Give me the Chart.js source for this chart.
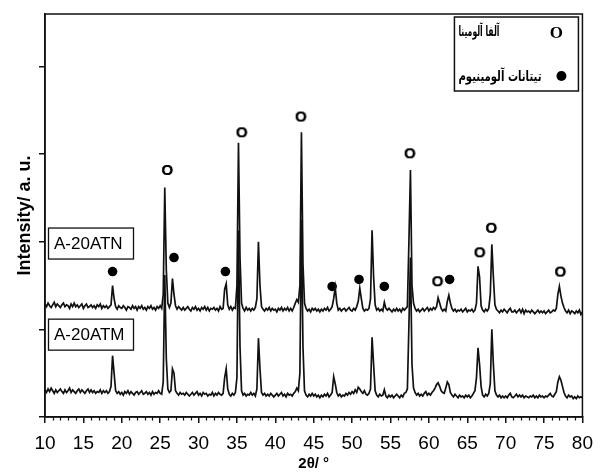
<!DOCTYPE html>
<html><head><meta charset="utf-8">
<script src="https://cdn.jsdelivr.net/npm/chart.js@4.4.1/dist/chart.umd.min.js"></script>
<style>html,body{margin:0;padding:0;background:#fff}#wrap{width:602px;height:475px;position:relative}</style>
</head><body><div id="wrap"><canvas id="c"></canvas></div>
<script>
// 2θ scan: start angle and step (degrees)
const thetaStart = 10;
const thetaStep = 0.2;

// Intensity of sample A-20ATN (upper pattern), one value per step
const atnIntensity = [
129,126,130,127,125, 128,131,126,129,127, 125,128,130,126,128, 127,124,129,126,130, 126,128,125,127,129,
124,127,129,125,126, 128,125,127,124,128, 126,129,124,127,125, 127,124,126,128,150, 135,126,123,127,125,
124,127,125,122,126, 125,123,127,124,126, 122,126,124,127,123, 125,122,126,124,127, 123,125,122,126,124,
127,124,140,262,168, 130,125,130,158,140, 127,123,126,124,122, 125,122,124,126,123, 121,125,123,126,122,
124,121,125,123,126, 122,125,121,124,123, 125,122,124,121,126, 123,124,146,152,128, 123,126,122,125,124,
150,313,182,130,124, 121,125,122,124,121, 124,122,125,135,200, 150,126,123,121,124, 122,125,121,124,122,
123,120,124,122,125, 121,124,122,125,121, 124,121,125,130,134, 131,150,325,175,130, 124,121,123,120,124,
122,124,121,123,120, 123,121,124,122,125, 121,123,126,135,148, 130,122,124,121,123, 124,121,123,125,122,
121,124,122,126,132, 147,135,124,121,123, 122,124,135,213,160, 128,122,124,121,123, 121,131,124,122,124,
122,120,123,121,124, 121,123,120,124,122, 124,126,200,282,150, 130,124,121,123,120, 122,124,121,123,125,
121,124,122,125,123, 126,136,130,124,121, 123,121,132,139,130, 124,121,123,120,122, 121,123,120,122,124,
120,122,121,123,120, 122,130,172,160,127, 122,120,123,121,124, 140,197,160,128,123, 121,119,122,120,123,
121,119,122,124,120, 120,122,119,121,123, 119,123,118,122,120, 121,119,122,120,118, 120,122,119,121,119,
121,118,120,122,119, 120,122,121,124,140, 149,138,130,125,121, 119,122,118,121,120, 118,121,119,122,117,
120
];

// Intensity of sample A-20ATM (lower pattern), one value per step
const atmIntensity = [
31,28,32,29,33, 30,27,31,28,30, 32,29,27,31,28, 30,33,28,31,29, 27,30,32,28,31,
29,27,30,32,28, 31,28,30,27,29, 28,31,27,30,28, 30,27,29,35,70, 50,30,27,29,26,
28,25,29,27,30, 26,29,27,25,28, 29,26,28,30,26, 27,29,26,28,25, 29,26,28,27,30,
27,26,40,162,67, 32,28,30,55,50, 30,27,25,28,26, 27,25,28,26,24, 26,28,25,27,29,
25,27,24,28,26, 27,24,26,25,28, 24,27,25,28,26, 25,27,45,55,32, 26,24,27,25,28,
45,213,80,30,25, 27,24,26,25,28, 25,27,24,32,90, 55,28,25,27,24, 26,24,27,25,23,
25,27,24,26,28, 24,26,23,27,25, 26,24,27,29,33, 30,50,225,80,30, 25,23,26,24,27,
24,26,23,25,22, 25,23,26,24,27, 23,25,28,46,38, 28,24,26,23,25, 24,27,25,28,26,
29,27,31,28,34, 32,29,27,30,26, 25,27,32,91,60, 30,25,23,26,24, 25,31,24,22,25,
23,25,22,24,26, 24,22,25,23,27, 28,32,105,182,60, 33,28,25,27,24, 26,24,27,29,25,
27,25,28,30,33, 37,39,35,30,28, 27,33,40,37,28, 25,23,26,24,22, 25,23,24,22,25,
23,25,22,24,27, 30,45,79,60,35, 25,23,26,24,27, 38,100,60,30,25, 23,25,22,24,22,
24,22,25,27,23, 22,24,26,23,25, 23,25,22,24,23, 22,24,23,25,22, 24,22,25,23,24,
22,24,23,25,27, 24,23,26,29,40, 46,42,35,28,24, 22,25,23,24,21, 23,21,24,22,23,
22
];

// Phase markers (position in 2θ and marker height in intensity units)
const aluminaMarkX = [25.9, 35.6, 43.3, 57.5, 61.1, 66.6, 68.1, 77.1];
const aluminaMarkY = [282, 325, 343, 301, 155, 188, 216, 166];
const titanateMarkX = [18.8, 26.8, 33.5, 47.4, 50.9, 54.2, 62.7];
const titanateMarkY = [166, 182, 166, 149, 157, 149, 157];

// Texts
const sampleNames = ['A-20ATN', 'A-20ATM'];
const sampleLabelY = [198, 94];
const legendLabels = ['آلفا آلومینا', 'تیتانات آلومینیوم'];
const xTitle = '2θ/ °';
const yTitle = 'Intensity/ a. u.';
const xMin = 10, xMax = 80, xMajor = 5, xMinor = 1;
const yMin = 0, yMax = 460, yStep = 100;

function toPoints(arr) {
  return arr.map((v, i) => ({ x: +(thetaStart + i * thetaStep).toFixed(1), y: v }));
}
function zip(xs, ys) { return xs.map((x, i) => ({ x: x, y: ys[i] })); }

function letterO() {
  const c = document.createElement('canvas');
  c.width = 18; c.height = 18;
  const g = c.getContext('2d');
  g.font = 'bold 15px "Liberation Sans", Arial, sans-serif';
  g.textAlign = 'center'; g.textBaseline = 'middle'; g.fillStyle = '#000';
  g.fillText('O', 9, 10);
  g.fillText('O', 9.4, 10);
  return c;
}

const INK = '#111';

const decorPlugin = {
  id: 'decor',
  afterDraw(chart) {
    const ctx = chart.ctx, a = chart.chartArea;
    const xs = chart.scales.x, ys = chart.scales.y;
    ctx.save();
    // frame
    ctx.strokeStyle = INK; ctx.lineWidth = 1.5;
    ctx.strokeRect(a.left, a.top, a.right - a.left, a.bottom - a.top);
    // minor ticks
    ctx.lineWidth = 1.2;
    ctx.beginPath();
    for (let v = xMin; v <= xMax; v += xMinor) {
      if (v % xMajor === 0) continue;
      const px = Math.round(xs.getPixelForValue(v)) + 0.5;
      ctx.moveTo(px, a.bottom); ctx.lineTo(px, a.bottom + 3.5);
    }
    ctx.stroke();
    // sample labels
    ctx.font = '17px "Liberation Sans", Arial, sans-serif';
    ctx.textAlign = 'left'; ctx.textBaseline = 'middle'; ctx.fillStyle = '#000';
    sampleNames.forEach((name, i) => {
      const cy = ys.getPixelForValue(sampleLabelY[i]);
      ctx.lineWidth = 1.3;
      ctx.strokeRect(a.left + 3.5, cy - 15.5, 85, 31);
      ctx.fillText(name, a.left + 9, cy + 1);
    });
    // legend box
    const bw = 124, bh = 74;
    const x1 = a.right - 4, x0 = x1 - bw, y0 = a.top + 3;
    ctx.lineWidth = 1.5;
    ctx.strokeRect(x0, y0, bw, bh);
    ctx.font = 'bold 17px "Liberation Serif", "Times New Roman", serif';
    ctx.textAlign = 'center';
    ctx.fillText('O', x1 - 22, y0 + 17);
    ctx.beginPath(); ctx.arc(x1 - 17, y0 + 59, 5, 0, Math.PI * 2); ctx.fill();
    ctx.font = 'bold 14px "DejaVu Sans", sans-serif';
    ctx.direction = 'rtl';
    ctx.textAlign = 'left';
    ctx.fillText(legendLabels[0], x0 + 4, y0 + 15, 41);
    ctx.fillText(legendLabels[1], x0 + 4, y0 + 60, 83);
    ctx.restore();
  }
};

new Chart(document.getElementById('c'), {
  type: 'line',
  data: {
    datasets: [
      { label: sampleNames[0], data: toPoints(atnIntensity), borderColor: INK, borderWidth: 1.7, pointRadius: 0, tension: 0 },
      { label: sampleNames[1], data: toPoints(atmIntensity), borderColor: INK, borderWidth: 1.7, pointRadius: 0, tension: 0 },
      { type: 'scatter', label: legendLabels[0], data: zip(aluminaMarkX, aluminaMarkY), pointStyle: letterO(), pointRadius: 8, showLine: false },
      { type: 'scatter', label: legendLabels[1], data: zip(titanateMarkX, titanateMarkY), pointStyle: 'circle', pointRadius: 4.8, backgroundColor: '#000', borderColor: '#000', borderWidth: 0, showLine: false }
    ]
  },
  options: {
    responsive: true, maintainAspectRatio: false, animation: false,
    layout: { padding: { top: 14, right: 16, left: 0, bottom: 0 } },
    plugins: { legend: { display: false }, tooltip: { enabled: false } },
    scales: {
      x: {
        type: 'linear', min: xMin, max: xMax,
        ticks: { stepSize: xMajor, color: '#000', padding: 9, maxRotation: 0,
                 font: { family: '"Liberation Sans Narrow", "Liberation Sans", Arial', size: 19 } },
        grid: { drawOnChartArea: false, drawTicks: true, tickLength: 6, color: INK, lineWidth: 1.5 },
        border: { color: INK, width: 1.5 },
        title: { display: true, text: xTitle, color: '#000', padding: { top: 0, bottom: 2 },
                 font: { family: '"Liberation Sans", Arial', size: 15, weight: 'bold' } },
        afterFit(s) { s.height = 58; }
      },
      y: {
        type: 'linear', min: yMin, max: yMax,
        ticks: { stepSize: yStep, display: false, includeBounds: false },
        grid: { drawOnChartArea: false, drawTicks: true, tickLength: 6, color: INK, lineWidth: 1.5 },
        border: { color: INK, width: 1.5 },
        title: { display: true, text: yTitle, color: '#000', padding: { top: 14, bottom: 0 },
                 font: { family: '"Liberation Sans", Arial', size: 18, weight: 'bold' } },
        afterFit(s) { s.width = 45; }
      }
    }
  },
  plugins: [decorPlugin]
});
</script>
</body></html>
